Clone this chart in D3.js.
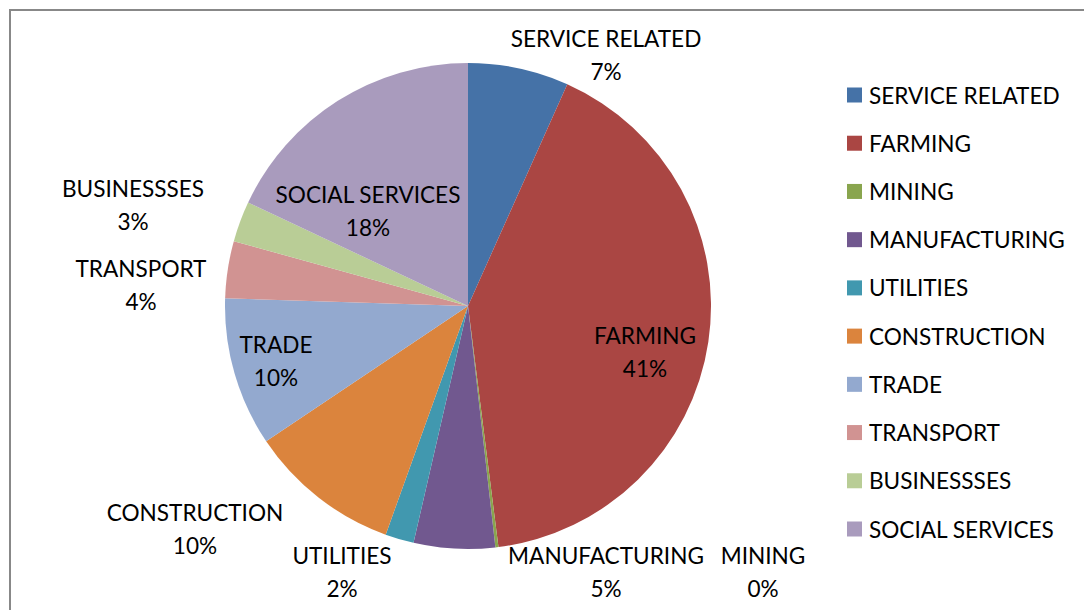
<!DOCTYPE html>
<html>
<head>
<meta charset="utf-8">
<script src="https://cdn.jsdelivr.net/npm/d3@7"></script>
<style>
  html, body { margin: 0; padding: 0; background: #fff; }
  svg { display: block; }
  text { font-family: Lato, "Open Sans", sans-serif; fill: #000; }
</style>
</head>
<body>
<svg id="chart" width="1084" height="610"></svg>
<script>
// ---- data ----
const categories = ["SERVICE RELATED", "FARMING", "MINING", "MANUFACTURING", "UTILITIES",
  "CONSTRUCTION", "TRADE", "TRANSPORT", "BUSINESSSES", "SOCIAL SERVICES"];
const shares = [6.7, 41.3, 0.2, 5.4, 1.9, 10.1, 9.9, 3.8, 2.7, 18.0];
const colors = ["#4572A7", "#AA4643", "#89A54E", "#71588F", "#4198AF",
  "#DB843D", "#93A9CF", "#D19392", "#B9CD96", "#A99BBD"];

// ---- layout ----
const W = 1084, H = 610;
const cx = 468, cy = 306, R = 243;
// label centres (x, y of first line), as placed in the reference
const labelPos = [[606, 38], [645, 335], [763, 555], [606, 555], [342, 555],
  [195, 512], [276, 344], [141, 268], [133, 188], [368, 194]];
const lineGap = 33;
const fontSize = 22.6;

const svg = d3.select("#chart");

// frame (partially cut off at right/bottom)
svg.append("rect").attr("x", 10).attr("y", 10).attr("width", W + 20).attr("height", H + 20)
  .attr("fill", "#fff").attr("stroke", "#888").attr("stroke-width", 2);

const total = d3.sum(shares);
const data = categories.map((c, i) => ({ name: c, value: shares[i], color: colors[i], i }));

const pie = d3.pie().value(d => d.value).sort(null);
const arc = d3.arc().innerRadius(0).outerRadius(R);

const g = svg.append("g").attr("transform", `translate(${cx},${cy})`);
g.selectAll("path").data(pie(data)).join("path")
  .attr("d", arc).attr("fill", d => d.data.color);

// data labels
const lab = svg.append("g").attr("font-size", fontSize).attr("text-anchor", "middle");
data.forEach((d, i) => {
  const [x, y] = labelPos[i];
  lab.append("text").attr("x", x).attr("y", y).attr("dominant-baseline", "central").text(d.name);
  lab.append("text").attr("x", x).attr("y", y + lineGap).attr("dominant-baseline", "central")
    .text(Math.round(d.value / total * 100) + "%");
});

// legend
const legY = d3.scalePoint().domain(categories).range([95, 529]);
const leg = svg.append("g").attr("font-size", fontSize);
data.forEach(d => {
  const y = legY(d.name);
  leg.append("rect").attr("x", 847).attr("y", y - 7.5).attr("width", 15).attr("height", 15)
    .attr("fill", d.color);
  leg.append("text").attr("x", 869).attr("y", y).attr("dominant-baseline", "central").text(d.name);
});
</script>
</body>
</html>
